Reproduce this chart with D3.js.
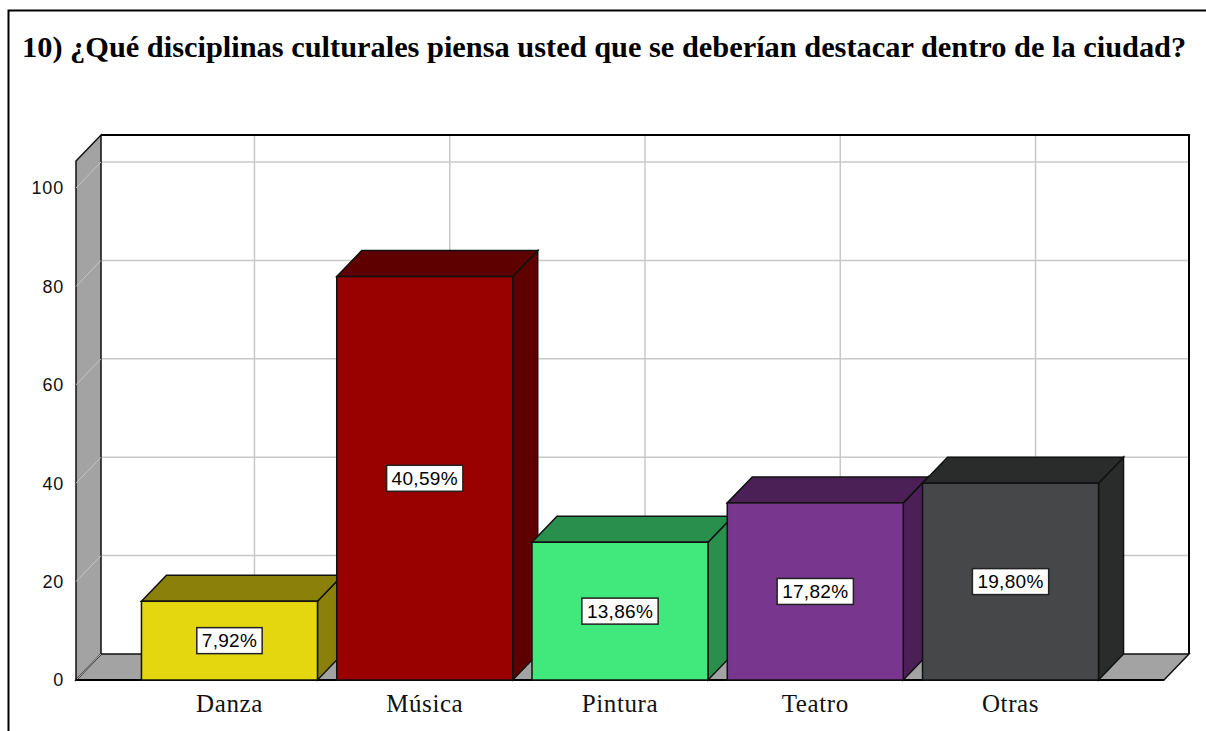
<!DOCTYPE html>
<html>
<head>
  <meta charset="utf-8">
  <title>Disciplinas culturales</title>
  <script src="https://d3js.org/d3.v7.min.js"></script>
  <style>
    body { margin: 0; background: #fff; }
    .title { font-family: "Liberation Serif", "Times New Roman", serif; font-weight: bold; }
    .cat { font-family: "Liberation Serif", "Times New Roman", serif; text-anchor: middle; letter-spacing: 0.6px; }
    .tick { font-family: "Liberation Sans", Arial, sans-serif; text-anchor: end; letter-spacing: 0.8px; }
    .val { font-family: "Liberation Sans", Arial, sans-serif; text-anchor: middle; letter-spacing: 0.3px; }
  </style>
</head>
<body>
  <svg width="1206" height="731"></svg>
  <script>
    const title = "10) ¿Qué disciplinas culturales piensa usted que se deberían destacar dentro de la ciudad?";
    const categories = ["Danza", "Música", "Pintura", "Teatro", "Otras"];
    const counts = [16, 82, 28, 36, 40];
    const percents = ["7,92%", "40,59%", "13,86%", "17,82%", "19,80%"];
    const yTicks = [0, 20, 40, 60, 80, 100];
    const frontColors = ["#e4d70f", "#990000", "#41e87b", "#78368e", "#454748"];
    const sideColors = ["#8b800a", "#5e0000", "#288f4d", "#4a2057", "#2a2b2b"];

    const svg = d3.select("svg");

    // 3D depth offset
    const dx = 25, dy = -26;
    const left = 76, right = 1164, bottom = 680, wallTop = 161;

    const x = d3.scalePoint().domain(categories).range([left, right]).padding(0.786);
    const y = d3.scaleLinear().domain([0, 100]).range([bottom, 188]);
    const barW = 176;

    // outer frame
    svg.append("path").attr("d", "M8.5,731V10.5H1206")
      .attr("fill", "none").attr("stroke", "#000").attr("stroke-width", 2);

    // title
    const t = svg.append("text").attr("class", "title")
      .attr("x", 22).attr("y", 57).style("font-size", "25px").text(title);
    const tw = t.node().getComputedTextLength();
    if (tw > 0) t.style("font-size", (25 * 1165 / tw) + "px");

    // back plane
    svg.append("rect")
      .attr("x", left + dx).attr("y", wallTop + dy)
      .attr("width", right - left).attr("height", bottom - wallTop)
      .attr("fill", "#fff");

    // back gridlines
    svg.selectAll(".hgrid").data(yTicks.slice(1)).join("line")
      .attr("x1", left + dx).attr("x2", right + dx)
      .attr("y1", d => y(d) + dy).attr("y2", d => y(d) + dy)
      .attr("stroke", "#c8c8c8").attr("stroke-width", 1.5);
    svg.selectAll(".vgrid").data(categories).join("line")
      .attr("x1", d => x(d) + dx).attr("x2", d => x(d) + dx)
      .attr("y1", wallTop + dy).attr("y2", bottom + dy)
      .attr("stroke", "#c8c8c8").attr("stroke-width", 1.5);

    // back plane border (top and right)
    svg.append("path")
      .attr("d", `M${left + dx},${wallTop + dy}H${right + dx}V${bottom + dy}`)
      .attr("fill", "none").attr("stroke", "#000").attr("stroke-width", 2);

    // floor
    svg.append("path")
      .attr("d", `M${left},${bottom}L${left + dx},${bottom + dy}H${right + dx}L${right},${bottom}Z`)
      .attr("fill", "#a3a3a3").attr("stroke", "#111").attr("stroke-width", 1.5);

    // left wall
    svg.append("path")
      .attr("d", `M${left},${wallTop}L${left + dx},${wallTop + dy}V${bottom + dy}L${left},${bottom}Z`)
      .attr("fill", "#a3a3a3").attr("stroke", "#111").attr("stroke-width", 1.5);
    svg.selectAll(".wgrid").data(yTicks).join("line")
      .attr("x1", left).attr("x2", left + dx)
      .attr("y1", d => y(d)).attr("y2", d => y(d) + dy)
      .attr("stroke", "#c4c4c4").attr("stroke-width", 1);

    // front base line
    svg.append("line").attr("x1", left).attr("x2", right)
      .attr("y1", bottom).attr("y2", bottom)
      .attr("stroke", "#000").attr("stroke-width", 2);

    // y tick labels
    svg.selectAll(".tick").data(yTicks).join("text").attr("class", "tick")
      .attr("x", 64).attr("y", d => y(d)).attr("dy", "0.35em")
      .style("font-size", "18px").attr("fill", "#111").text(d => d);

    // bars
    const bars = svg.selectAll(".bar").data(counts).join("g").attr("class", "bar");
    bars.each(function(d, i) {
      const g = d3.select(this);
      const x0 = x(categories[i]) - barW / 2, x1 = x0 + barW;
      const yt = y(d);
      g.append("path")
        .attr("d", `M${x1},${yt}L${x1 + dx},${yt + dy}V${bottom + dy}L${x1},${bottom}Z`)
        .attr("fill", sideColors[i]).attr("stroke", "#111").attr("stroke-width", 1.5);
      g.append("path")
        .attr("d", `M${x0},${yt}L${x0 + dx},${yt + dy}H${x1 + dx}L${x1},${yt}Z`)
        .attr("fill", sideColors[i]).attr("stroke", "#111").attr("stroke-width", 1.5);
      g.append("rect")
        .attr("x", x0).attr("y", yt).attr("width", barW).attr("height", bottom - yt)
        .attr("fill", frontColors[i]).attr("stroke", "#111").attr("stroke-width", 1.5);

      const cy = (yt + bottom) / 2;
      const txt = g.append("text").attr("class", "val")
        .attr("x", x(categories[i])).attr("y", cy).attr("dy", "0.36em")
        .style("font-size", "19px").attr("fill", "#000").text(percents[i]);
      const w = txt.node().getComputedTextLength();
      g.insert("rect", "text.val")
        .attr("x", x(categories[i]) - w / 2 - 5).attr("y", cy - 13)
        .attr("width", w + 10).attr("height", 26)
        .attr("fill", "#fff").attr("stroke", "#222").attr("stroke-width", 1.5);
    });

    // category labels
    svg.selectAll(".cat").data(categories).join("text").attr("class", "cat")
      .attr("x", d => x(d)).attr("y", 712)
      .style("font-size", "25px").attr("fill", "#111").text(d => d);
  </script>
</body>
</html>
